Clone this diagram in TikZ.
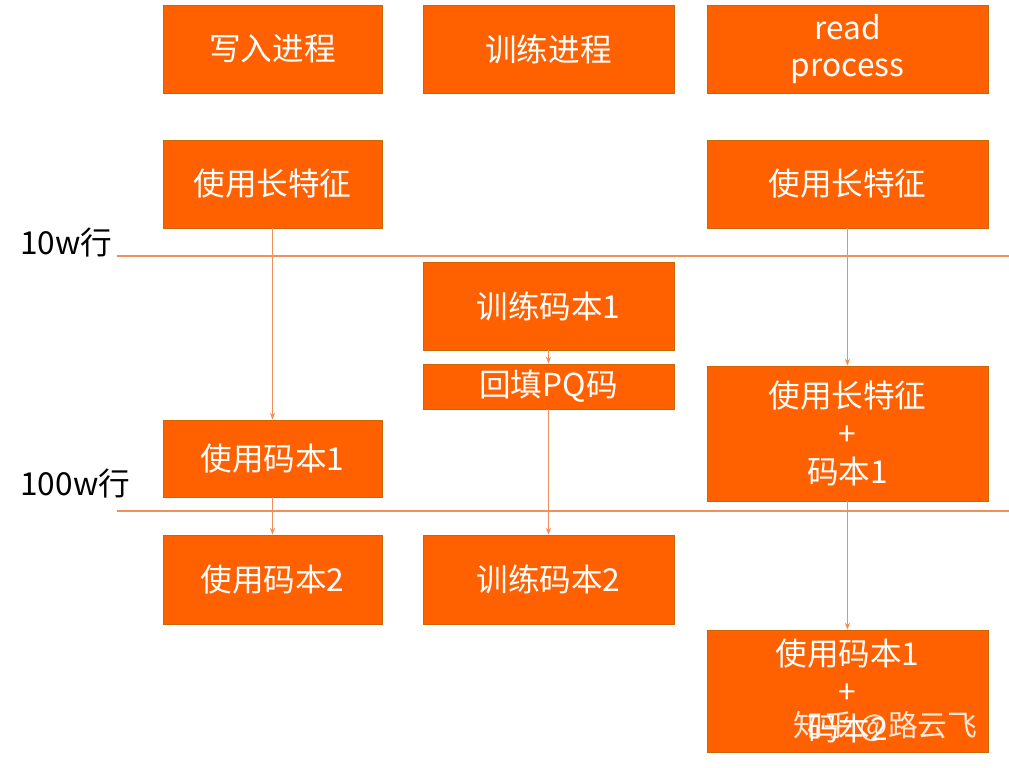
\documentclass[tikz,border=0pt]{standalone}
\usepackage{fontspec}
\setmainfont{Noto Sans CJK SC}
\usetikzlibrary{arrows.meta}
\begin{document}
\begin{tikzpicture}[x=0.02cm,y=-0.02cm,
  box/.style={draw=orange!80!black,fill=orange6,text=white,font=\fontsize{18}{21.5}\selectfont,align=center,inner sep=0pt},
  conn/.style={draw=lineor,line width=0.6pt,-{Stealth[length=4pt,width=3pt]}},
  sep/.style={draw=lineor,line width=0.6pt}]
\definecolor{orange6}{HTML}{FF6000}
\definecolor{lineor}{HTML}{F0905A}
\useasboundingbox (0,0) rectangle (1009,768);
\newcommand\bx[6]{\node[box,minimum width={(#4-#2)*0.02cm},minimum height={(#5-#3)*0.02cm}] (#1) at ({(#2+#4)/2},{(#3+#5)/2}) {#6};}
\bx{w}{163}{5}{382}{93}{写入进程}
\bx{t}{423}{5}{674}{93}{训练进程}
\bx{r}{707}{5}{988}{93}{read\\process}
\bx{wl}{163}{140}{382}{228}{使用长特征}
\bx{rl}{707}{140}{988}{228}{使用长特征}
\bx{t1}{423}{262}{674}{350}{训练码本1}
\bx{pq}{423}{364}{674}{409}{回填PQ码}
\bx{rc}{707}{366}{988}{501}{使用长特征\\+\\码本1}
\bx{w1}{163}{420}{382}{497}{使用码本1}
\bx{w2}{163}{535}{382}{624}{使用码本2}
\bx{t2}{423}{535}{674}{624}{训练码本2}
\bx{rd}{707}{630}{988}{752}{使用码本1\\+\\码本2}
\coordinate (l1a) at (117,256); \coordinate (l1b) at (1009,256);
\coordinate (l2a) at (117,511); \coordinate (l2b) at (1009,511);
\draw[sep] (l1a) -- (l1b);
\draw[sep] (l2a) -- (l2b);
\node[anchor=west,font=\fontsize{18}{21.5}\selectfont,inner sep=0pt] (lab1) at (20,243) {10w行};
\node[anchor=west,font=\fontsize{18}{21.5}\selectfont,inner sep=0pt] (lab2) at (20,484) {100w行};
\draw[conn] (wl.south) -- (w1.north);
\draw[conn] (w1.south) -- (w2.north);
\draw[conn] (t1.south) -- (pq.north);
\draw[conn] (pq.south) -- (t2.north);
\draw[conn] (rl.south) -- (rc.north);
\draw[conn] (rc.south) -- (rd.north);
\node[anchor=west,text=white,opacity=0.85,font=\fontsize{17}{20}\selectfont,inner sep=0pt] (wm) at (793,727) {知乎 @路云飞};
\end{tikzpicture}
\end{document}
